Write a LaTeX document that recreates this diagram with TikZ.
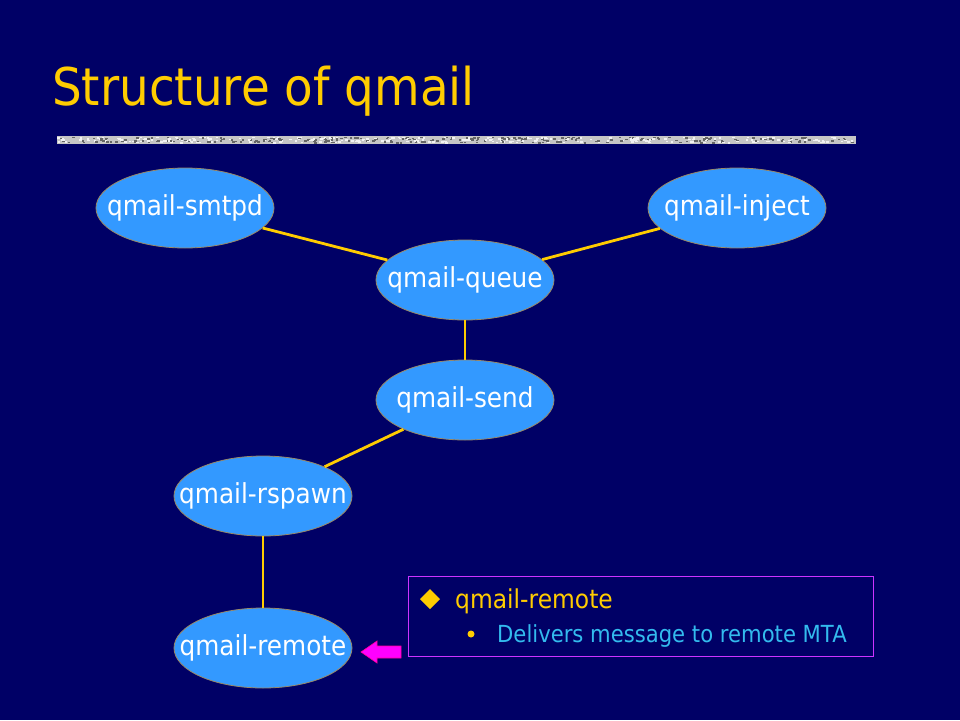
\documentclass[tikz,border=0pt]{standalone}
\usepackage{fontspec}
\setmainfont{DejaVu Sans}[FakeStretch=0.9]
\usepackage{xcolor}
\usepackage{tikz}
\usetikzlibrary{positioning,shapes.geometric}
\definecolor{navy}{HTML}{000066}
\definecolor{gold}{HTML}{FFCC00}
\definecolor{bubble}{HTML}{3399FF}
\definecolor{rim}{HTML}{998866}
\definecolor{sky}{HTML}{33BBEE}
\definecolor{frame}{HTML}{CC33FF}
\definecolor{pink}{HTML}{FF00FF}

\begin{document}
\begin{tikzpicture}[x=1pt,y=-1pt,
  proc/.style={ellipse,fill=bubble,draw=rim,line width=.8pt,minimum width=178pt,minimum height=80pt,inner xsep=-30pt,inner ysep=0pt,text=white,font=\fontsize{27.5}{30}\selectfont},
  wire/.style={gold,line width=2.8pt}]
\useasboundingbox (0,0) rectangle (960,720);
\fill[navy] (0,0) rectangle (960,720);
\node[anchor=base west,text=gold,font=\fontsize{52}{60}\selectfont,inner sep=0pt] (title) at (52,105) {Structure of qmail};
% textured rule under the title
\fill[gray!45] (57,136) rectangle (856,144);
\pgfmathsetseed{7}
\foreach \i in {0,...,260}
  {\pgfmathsetmacro\px{57+rnd*796}\pgfmathsetmacro\py{136.5+rnd*5.5}
   \fill[gray!80!black] (\px,\py) rectangle ++(2.5,1.6);
   \pgfmathsetmacro\qx{57+rnd*796}\pgfmathsetmacro\qy{136.5+rnd*5.5}
   \fill[white!90!gray] (\qx,\qy) rectangle ++(2.5,1.6);}
\node[proc] (smtpd) at (185,208) {qmail-smtpd};
\node[proc] (inject) at (737,208) {qmail-inject};
\node[proc] (queue) at (465,280) {qmail-queue};
\node[proc] (send) at (465,400) {qmail-send};
\node[proc] (rspawn) at (263,496) {qmail-rspawn};
\node[proc] (remote) at (263,648) {qmail-remote};
\draw[wire] (smtpd) -- (queue);
\draw[wire] (inject) -- (queue);
\draw[wire] (queue) -- (send);
\draw[wire] (send) -- (rspawn);
\draw[wire] (rspawn) -- (remote);
% note box
\draw[frame,line width=1pt] (408,576) rectangle (873,656);
\fill[gold] (430,589) -- (440,599) -- (430,609) -- (420,599) -- cycle;
\node[anchor=base west,text=gold,font=\fontsize{26}{30}\selectfont,inner sep=0pt] (item) at (455,608) {qmail-remote};
\fill[gold] (471,634) circle (3.5);
\node[anchor=base west,text=sky,font=\fontsize{23.5}{27}\selectfont,inner sep=0pt] (sub) at (497,642) {Delivers message to remote MTA};
\filldraw[fill=pink,draw=red!40!pink,line width=.6pt] (361,652) -- (377,641) -- (377,646) -- (401,646) -- (401,658) -- (377,658) -- (377,663) -- cycle;
\end{tikzpicture}
\end{document}
